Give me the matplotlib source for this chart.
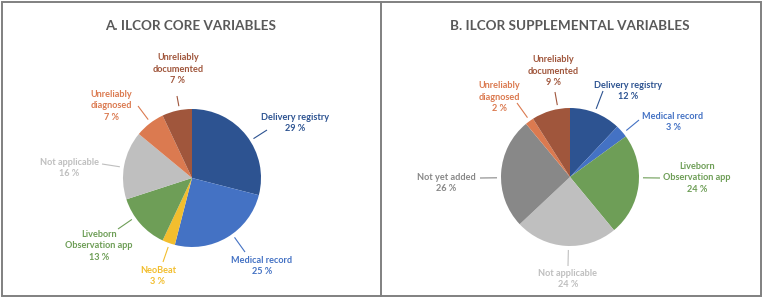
import matplotlib
matplotlib.use("Agg")
import matplotlib.pyplot as plt
import numpy as np
from matplotlib.patches import Rectangle

# ---- data ----
core_labels = ["Delivery registry", "Medical record", "NeoBeat", "Liveborn\nObservation app",
               "Not applicable", "Unreliably\ndiagnosed", "Unreliably\ndocumented"]
core_values = [29, 25, 3, 13, 16, 7, 7]

supp_labels = ["Delivery registry", "Medical record", "Liveborn\nObservation app",
               "Not applicable", "Not yet added", "Unreliably\ndiagnosed", "Unreliably\ndocumented"]
supp_values = [12, 3, 24, 24, 26, 2, 9]

titles = ["A. ILCOR CORE VARIABLES", "B. ILCOR SUPPLEMENTAL VARIABLES"]

palette = {
    "Delivery registry": "#2D5391",
    "Medical record": "#4472C4",
    "NeoBeat": "#F2BE2E",
    "Liveborn\nObservation app": "#6E9E57",
    "Not applicable": "#BFBFBF",
    "Not yet added": "#888888",
    "Unreliably\ndiagnosed": "#DB7A50",
    "Unreliably\ndocumented": "#A0563C",
}

# ---- layout (pixel coords, y measured from top) ----
W, H = 763, 298
centers = [(192, 178), (570, 177)]
radius = 69
title_pos = [(191, 26), (570, 26)]
# text centre and leader end for each label
core_layout = [((295, 123), (267, 130)), ((262, 266), (245, 252)), ((158, 276), (163, 262)),
               ((99, 246), (118, 229)), ((69, 168), (102, 164)), ((111, 106), (138, 106)),
               ((178, 69), (177, 96))]
supp_layout = [((628, 91), (603, 91)), ((673, 122), (639, 120)), ((697, 178), (660, 178)),
               ((568, 279), (568, 266)), ((446, 183), (480, 178)), ((499, 97), (517, 103)),
               ((553, 71), (555, 92))]

FONT = "Lato"

fig = plt.figure(figsize=(W / 100, H / 100), dpi=100)
ax = fig.add_axes([0, 0, 1, 1])


def fy(y):
    return H - y


panels = [(core_labels, core_values, core_layout), (supp_labels, supp_values, supp_layout)]
for i, (labels, values, layout) in enumerate(panels):
    cx, cy = centers[i]
    cols = [palette[l] for l in labels]
    ax.pie(values, colors=cols, startangle=90, counterclock=False,
           center=(cx, fy(cy)), radius=radius, wedgeprops=dict(linewidth=0))
    for lab, val, col, ((tx, ty), (ex, ey)) in zip(labels, values, cols, layout):
        ax.text(tx, fy(ty), f"{lab}\n{val} %", ha="center", va="center", color=col,
                fontsize=6.6, fontweight="bold", family=FONT, linespacing=1.32)
        dx, dy = ex - cx, ey - cy
        d = np.hypot(dx, dy)
        sx, sy = cx + dx / d * (radius + 4), cy + dy / d * (radius + 4)
        ax.plot([sx, ex], [fy(sy), fy(ey)], color=col, lw=0.8, solid_capstyle="butt")
    ax.text(title_pos[i][0], fy(title_pos[i][1]), titles[i], ha="center", va="center",
            color="#595959", fontsize=9.7, fontweight="bold", family=FONT)

# frames
ax.add_patch(Rectangle((1.5, fy(295.5)), 759.5, 294, fill=False, edgecolor="#808080", lw=1.4))
ax.plot([381, 381], [fy(1.5), fy(295.5)], color="#808080", lw=1.4)

ax.set_xlim(0, W)
ax.set_ylim(0, H)
ax.set_aspect("auto")
ax.set_axis_off()
fig.savefig("out.png", dpi=100)
